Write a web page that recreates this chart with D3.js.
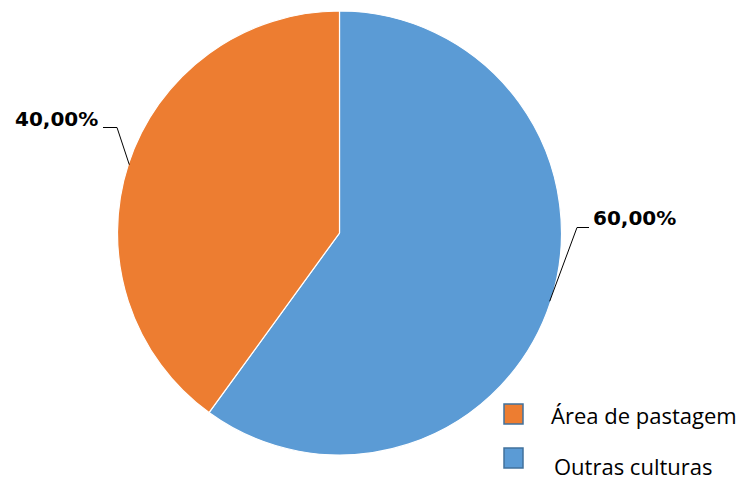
<!DOCTYPE html>
<html>
<head>
<meta charset="utf-8">
<script src="https://cdn.jsdelivr.net/npm/d3@7"></script>
<style>
  body { margin: 0; background: #fff; }
  svg { display: block; }
</style>
</head>
<body>
<svg id="chart" width="750" height="479"></svg>
<script>
// chart data
const categories = ["Área de pastagem", "Outras culturas"];
const values = [40, 60];
const labels = ["40,00%", "60,00%"];
const colours = ["#ED7D31", "#5B9BD5"];

const width = 750, height = 479;
const cx = 339.5, cy = 233, radius = 222;

const svg = d3.select('#chart');
const g = svg.append('g').attr('transform', `translate(${cx},${cy})`);

// slices go clockwise from 12 o'clock, the big one first (like excel)
const order = [1, 0];
const pie = d3.pie().sort(null).value(i => values[i]);
const arcs = pie(order);
const arc = d3.arc().innerRadius(0).outerRadius(radius);

g.selectAll('.slice').data(arcs).enter()
  .append('path')
    .attr('class', 'slice')
    .attr('d', arc)
    .attr('fill', d => colours[d.data])
    .attr('stroke', '#fff')
    .attr('stroke-width', 1.2);

// label positions + leader lines (elbow: x start, x end, y)
const labelPos = {
  0: { x: 15, y: 126, elbow: [103, 117, 127.5] },
  1: { x: 593, y: 225, elbow: [589, 577, 227.5] }
};

arcs.forEach(d => {
  const i = d.data;
  const p = labelPos[i];
  const mid = (d.startAngle + d.endAngle) / 2;
  const tx = cx + Math.sin(mid) * (radius - 1);
  const ty = cy - Math.cos(mid) * (radius - 1);
  svg.append('polyline')
    .attr('points', `${p.elbow[0]},${p.elbow[2]} ${p.elbow[1]},${p.elbow[2]} ${tx},${ty}`)
    .attr('fill', 'none')
    .attr('stroke', '#000')
    .attr('stroke-width', 1);
  svg.append('text')
    .attr('x', p.x)
    .attr('y', p.y)
    .attr('font-family', '"DejaVu Sans", sans-serif')
    .attr('font-weight', 'bold')
    .attr('font-size', 20)
    .attr('fill', '#000')
    .text(labels[i]);
});

// legend
const legend = svg.append('g').attr('class', 'legend');
const legendY = [414, 458];
const legendTextY = [424, 474.5];
const legendTextX = [551, 554];
categories.forEach((c, i) => {
  legend.append('rect')
    .attr('x', 504)
    .attr('y', legendY[i] - 10)
    .attr('width', 19)
    .attr('height', 20)
    .attr('fill', colours[i])
    .attr('stroke', '#41719C')
    .attr('stroke-width', 1.5);
  legend.append('text')
    .attr('x', legendTextX[i])
    .attr('y', legendTextY[i])
    .attr('font-family', '"Open Sans", sans-serif')
    .attr('font-size', 22)
    .attr('fill', '#000')
    .text(c);
});
</script>
</body>
</html>
